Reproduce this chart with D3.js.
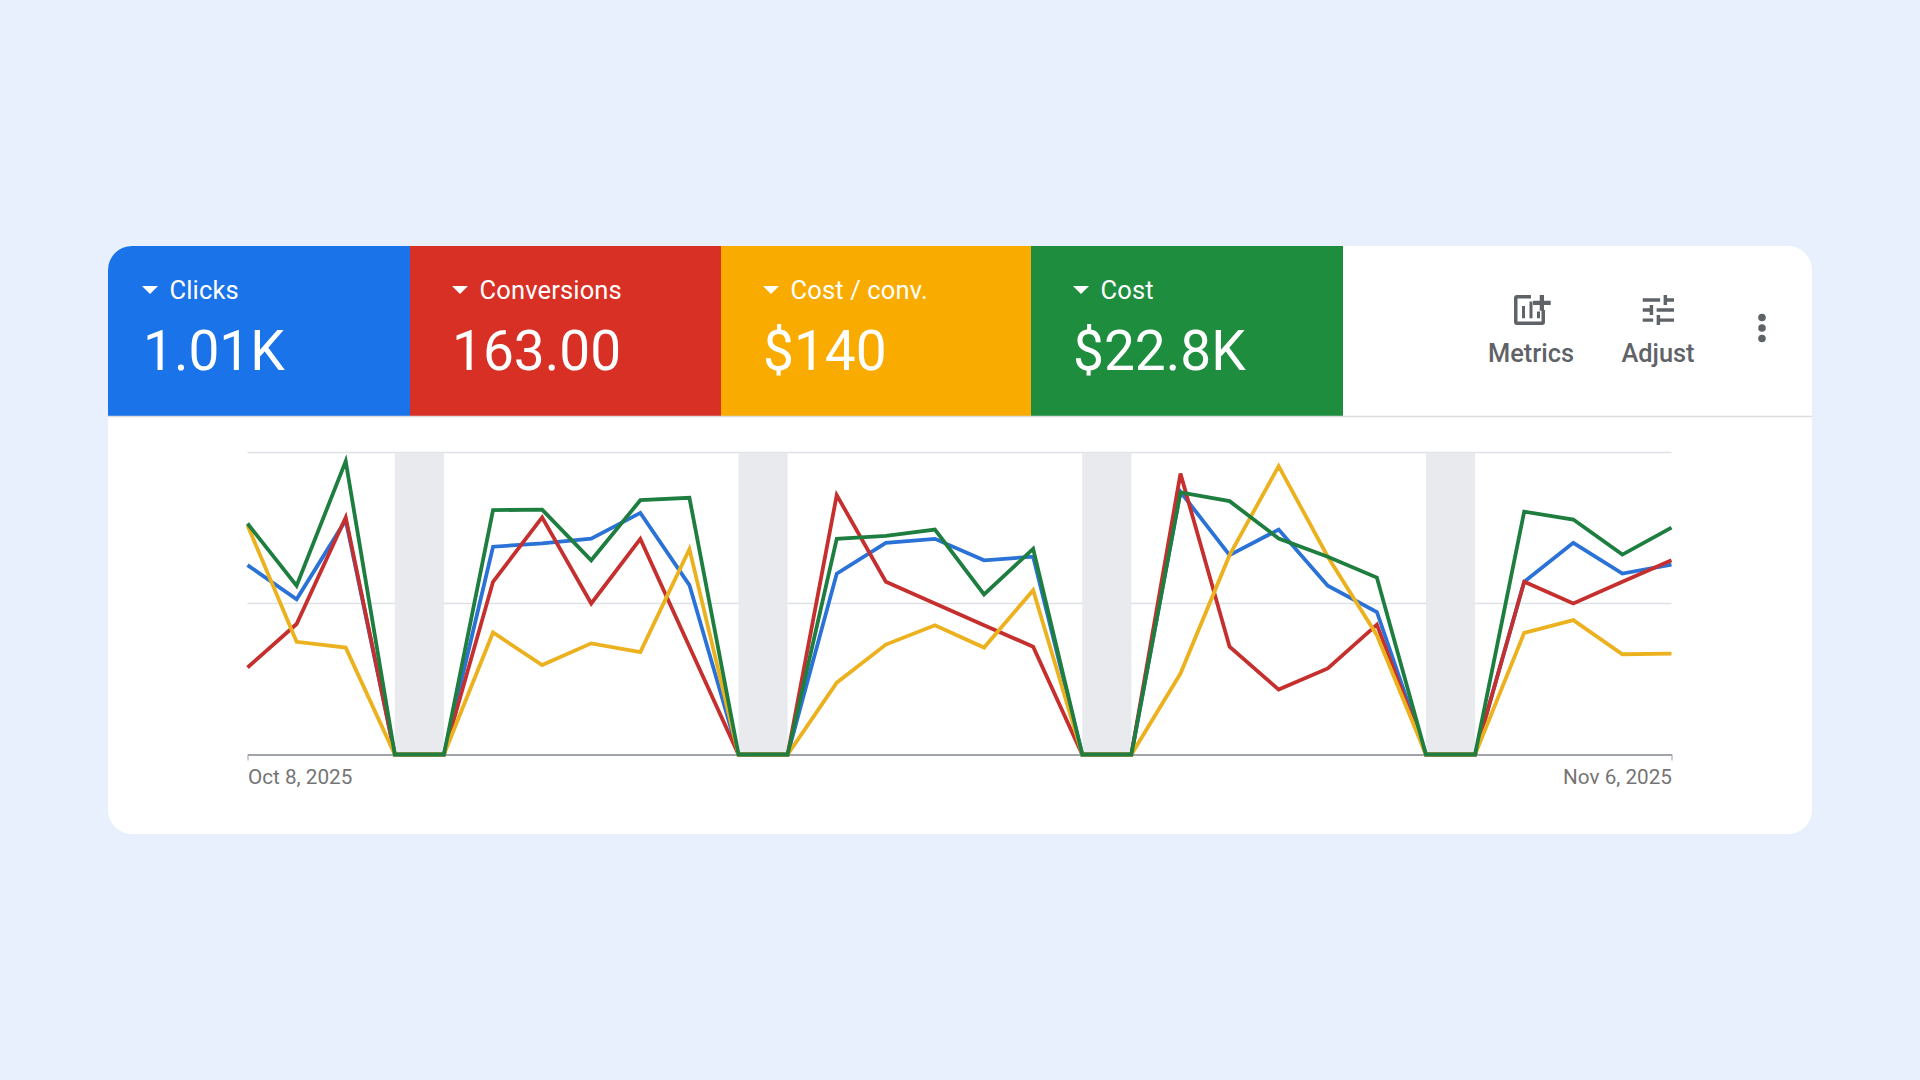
<!DOCTYPE html>
<html>
<head>
<meta charset="utf-8">
<script src="https://cdn.jsdelivr.net/npm/d3@7"></script>
<style>
  html, body { margin: 0; padding: 0; background: #e8f0fe; }
  svg { display: block; }
  text { font-family: Roboto, sans-serif; }
</style>
</head>
<body>
<div id="chart"></div>
<script>
// Values as % of the axis height
const startDate = new Date(2025, 9, 8);
const dates = d3.timeDay.range(startDate, new Date(2025, 10, 7));

const clicks = [62.7, 51.4, 77.6, 0, 0, 68.8, 69.9, 71.5, 80.0, 56.1, 0, 0, 59.9, 70.1, 71.4, 64.3, 65.5, 0, 0, 87.0, 66.0, 74.5, 55.9, 47.2, 0, 0, 57.2, 70.1, 59.9, 62.9];
const conversions = [28.8, 43.2, 78.5, 0, 0, 57.2, 78.5, 50.0, 71.4, 35.7, 0, 0, 85.9, 57.2, 50.0, 42.8, 35.7, 0, 0, 93.0, 35.7, 21.5, 28.5, 43.0, 0, 0, 57.2, 50.0, 57.2, 64.3];
const costPerConv = [75.9, 37.3, 35.4, 0, 0, 40.4, 29.6, 36.8, 33.9, 68.0, 0, 0, 23.8, 36.4, 42.8, 35.4, 54.4, 0, 0, 26.8, 66.0, 95.5, 65.5, 39.5, 0, 0, 40.3, 44.5, 33.2, 33.4];
const cost = [76.5, 55.9, 97.1, 0, 0, 80.9, 81.1, 64.3, 84.2, 85.0, 0, 0, 71.4, 72.4, 74.5, 53.0, 68.1, 0, 0, 86.8, 83.9, 71.5, 65.5, 58.6, 0, 0, 80.4, 77.8, 66.2, 75.1];

const metricNames = ["Clicks", "Conversions", "Cost / conv.", "Cost"];
const metricValues = ["1.01K", "163.00", "$140", "$22.8K"];
const tabColors = ["#1a73e8", "#d93025", "#f9ab00", "#1e8e3e"];
const lineColors = ["#2b72d7", "#c5302e", "#ecb11e", "#1e7e40"];
const weekendStarts = [3, 10, 17, 24];
const yTicks = [0, 50, 100];

const width = 1920, height = 1080;
const card = { x: 108, y: 246, w: 1704, h: 588, r: 24 };
const tabEdges = [108, 410, 721, 1031, 1343];
const tabShift = [0, 8, 8, 8];
const headerBottom = 416;
const plot = { left: 247.5, right: 1671.5, top: 452.5, bottom: 754.5 };

const svg = d3.select("#chart").append("svg")
  .attr("width", width)
  .attr("height", height);

svg.append("clipPath").attr("id", "cardClip")
  .append("rect")
  .attr("x", card.x).attr("y", card.y)
  .attr("width", card.w).attr("height", card.h)
  .attr("rx", card.r);

const cardG = svg.append("g").attr("clip-path", "url(#cardClip)");

cardG.append("rect")
  .attr("x", card.x).attr("y", card.y)
  .attr("width", card.w).attr("height", card.h)
  .attr("fill", "#fff");

// Metric tabs
const tabs = cardG.selectAll("g.tab")
  .data(metricNames)
  .join("g")
  .attr("class", "tab")
  .attr("transform", (d, i) => `translate(${tabEdges[i]},${card.y})`);

tabs.append("rect")
  .attr("width", (d, i) => tabEdges[i + 1] - tabEdges[i])
  .attr("height", headerBottom - card.y)
  .attr("fill", (d, i) => tabColors[i]);

tabs.append("path")
  .attr("transform", (d, i) => `translate(${tabShift[i]},0)`)
  .attr("d", "M34 40h16l-8 8z")
  .attr("fill", "#fff");

tabs.append("text")
  .attr("x", (d, i) => 61.5 + tabShift[i])
  .attr("y", 53)
  .attr("font-size", 25.5)
  .attr("letter-spacing", 0.15)
  .attr("fill", "#fff")
  .text(d => d);

tabs.append("text")
  .attr("x", (d, i) => (i === 0 ? 35 : 34) + tabShift[i])
  .attr("y", 124)
  .attr("font-size", 55)
  .attr("fill", "#fff")
  .text((d, i) => metricValues[i]);

// Divider under the tabs
cardG.append("line")
  .attr("x1", card.x).attr("x2", card.x + card.w)
  .attr("y1", headerBottom + 0.5).attr("y2", headerBottom + 0.5)
  .attr("stroke", "#dadce0")
  .attr("stroke-width", 1.5);

// Toolbar
const toolbar = svg.append("g").attr("fill", "#5f6368");

toolbar.append("path")
  .attr("transform", "translate(1514,295)")
  .attr("d", "M3 0H17V3.5H3.5V26.5H27.5V15H31V27a3 3 0 0 1-3 3H3a3 3 0 0 1-3-3V3a3 3 0 0 1 3-3z"
    + "M8 11h3v12.3H8zM15.5 6.5h3v16.8h-3zM23 16.5h3v6.8h-3z"
    + "M25.7 0h4.3v5.7h6.7v4.3h-6.7v5.7h-4.3v-5.7h-6.7v-4.3h6.7z");

toolbar.append("path")
  .attr("transform", "translate(1637.5,290) scale(1.74,1.67)")
  .attr("d", "M3 17v2h6v-2H3zM3 5v2h10V5H3zm10 16v-2h8v-2h-8v-2h-2v6h2zM7 9v2H3v2h4v2h2V9H7zm14 4v-2H11v2h10zm-6-4h2V7h4V5h-4V3h-2v6z");

toolbar.selectAll("text")
  .data([["Metrics", 1531], ["Adjust", 1658]])
  .join("text")
  .attr("x", d => d[1])
  .attr("y", 362)
  .attr("text-anchor", "middle")
  .attr("font-size", 25.4)
  .attr("font-weight", 500)
  .text(d => d[0]);

toolbar.selectAll("circle")
  .data([317.5, 328, 338.5])
  .join("circle")
  .attr("cx", 1762)
  .attr("cy", d => d)
  .attr("r", 3.8);

// Scales
const x = d3.scaleTime()
  .domain([dates[0], dates[dates.length - 1]])
  .range([plot.left, plot.right]);

const y = d3.scaleLinear()
  .domain([0, 100])
  .range([plot.bottom, plot.top]);

// Gridlines
svg.append("g")
  .selectAll("line")
  .data(yTicks.filter(d => d > 0))
  .join("line")
  .attr("x1", plot.left).attr("x2", plot.right)
  .attr("y1", d => y(d)).attr("y2", d => y(d))
  .attr("stroke", "#dfe1e5")
  .attr("stroke-width", 1.5);

// Weekend bands
svg.append("g")
  .selectAll("rect")
  .data(weekendStarts)
  .join("rect")
  .attr("x", d => x(dates[d]))
  .attr("y", plot.top)
  .attr("width", d => x(dates[d + 1]) - x(dates[d]))
  .attr("height", plot.bottom - plot.top)
  .attr("fill", "#e6e8eb")
  .attr("fill-opacity", 0.92);

// Axis
const fmt = d3.timeFormat("%b %-d, %Y");
const xAxis = svg.append("g")
  .attr("transform", `translate(0,${plot.bottom})`)
  .call(d3.axisBottom(x)
    .tickValues([dates[0], dates[dates.length - 1]])
    .tickSize(6)
    .tickSizeOuter(0)
    .tickFormat(fmt));

xAxis.select(".domain").attr("stroke", "#80868b").attr("stroke-width", 1.5);
xAxis.selectAll(".tick line").attr("stroke", "#9aa0a6").attr("stroke-width", 1);
xAxis.selectAll(".tick text")
  .attr("y", 15)
  .attr("dy", "0.71em")
  .attr("font-size", 20.7)
  .attr("font-family", "Roboto, sans-serif")
  .attr("fill", "#757575")
  .attr("text-anchor", (d, i) => i === 0 ? "start" : "end");

// Lines, green on top
const line = d3.line()
  .x((d, i) => x(dates[i]))
  .y(d => y(d));

const seriesList = [clicks, conversions, costPerConv, cost];

svg.append("g")
  .selectAll("path")
  .data(seriesList)
  .join("path")
  .attr("d", line)
  .attr("fill", "none")
  .attr("stroke", (d, i) => lineColors[i])
  .attr("stroke-width", 3.8)
  .attr("stroke-linejoin", "miter");
</script>
</body>
</html>
